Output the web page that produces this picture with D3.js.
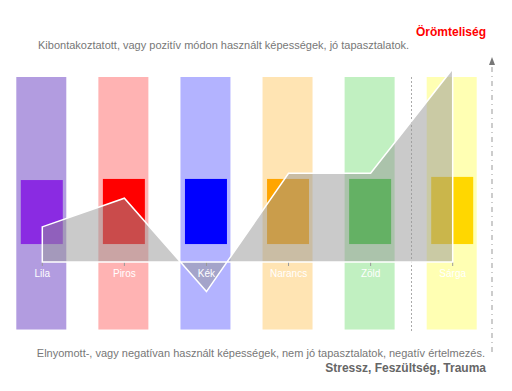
<!DOCTYPE html>
<html>
<head>
<meta charset="utf-8">
<script src="https://cdn.jsdelivr.net/npm/d3@7"></script>
<style>
  html, body { margin: 0; padding: 0; background: #fff; }
  text { font-family: "Liberation Sans", Arial, sans-serif; }
</style>
</head>
<body>
<div id="chart"></div>
<script>
// categories and values
const categories = ["Lila", "Piros", "Kék", "Narancs", "Zöld", "Sárga"];
const values = [1.9, 3.45, -1.6, 4.8, 4.8, 10.45];
const innerTop = [4.43, 4.49, 4.49, 4.49, 4.49, 4.6];
const innerBottom = [0.97, 0.97, 0.97, 0.97, 0.97, 0.97];
const columnTop = 10;
const columnBottom = -3.65;
const innerColors = ["blueviolet", "red", "blue", "orange", "limegreen", "gold"];
const columnColors = ["#b29ce0", "#ffb3b3", "#b3b3ff", "#ffe4b3", "#c1f0c1", "#ffffb3"];

const width = 512, height = 391;

const svg = d3.select("#chart")
  .append("svg")
    .attr("width", width)
    .attr("height", height);

// x positions of categories
const x = d3.scalePoint()
  .domain(categories)
  .range([42.3, 452.7]);

// value scale, 0 sits on the baseline
const y = d3.scaleLinear()
  .domain([-4, 11])
  .range([336, 58.5]);

const data = categories.map((c, i) => ({
  key: c, value: values[i], top: innerTop[i], bottom: innerBottom[i],
  color: innerColors[i], light: columnColors[i]
}));

// tall light columns
svg.selectAll(".column")
  .data(data)
  .join("rect")
    .attr("class", "column")
    .attr("x", d => x(d.key) - 26)
    .attr("width", 50)
    .attr("y", y(columnTop))
    .attr("height", y(columnBottom) - y(columnTop))
    .attr("fill", d => d.light);

// inner strong bars
svg.selectAll(".inner")
  .data(data)
  .join("rect")
    .attr("class", "inner")
    .attr("x", d => x(d.key) - 21.5)
    .attr("width", 42)
    .attr("y", d => y(d.top))
    .attr("height", d => y(d.bottom) - y(d.top))
    .attr("fill", d => d.color);

// dotted separator between Zöld and Sárga
svg.append("line")
  .attr("x1", 411.5).attr("x2", 411.5)
  .attr("y1", y(columnTop)).attr("y2", y(columnBottom) + 2)
  .attr("stroke", "#aaa")
  .attr("stroke-width", 1)
  .attr("stroke-dasharray", "2,2");

// ticks on the baseline
svg.selectAll(".tick")
  .data(categories)
  .join("line")
    .attr("class", "tick")
    .attr("x1", d => x(d)).attr("x2", d => x(d))
    .attr("y1", y(0)).attr("y2", y(0) + 4)
    .attr("stroke", "#999");

// gray area with white outline
const area = d3.area()
  .x(d => x(d.key))
  .y0(y(0))
  .y1(d => y(d.value));

svg.append("path")
  .datum(data)
  .attr("d", area(data))
  .attr("fill", "rgb(150,150,150)")
  .attr("fill-opacity", 0.5)
  .attr("stroke", "#fff")
  .attr("stroke-width", 1.5);

// category labels
svg.selectAll(".label")
  .data(categories)
  .join("text")
    .attr("class", "label")
    .attr("x", d => x(d))
    .attr("y", 277)
    .attr("text-anchor", "middle")
    .attr("font-size", 10)
    .attr("fill", "#fff")
    .text(d => d);

// right axis with arrow
svg.append("line")
  .attr("x1", 492).attr("x2", 492)
  .attr("y1", 67).attr("y2", 356)
  .attr("stroke", "#999")
  .attr("stroke-width", 1)
  .attr("stroke-dasharray", "5,4,1,4");
svg.append("path")
  .attr("d", "M492,57 L489,65 L495,65 Z")
  .attr("fill", "#777");

// texts
svg.append("text")
  .attr("x", 486).attr("y", 36)
  .attr("text-anchor", "end")
  .attr("font-size", 12).attr("font-weight", "bold")
  .attr("fill", "red")
  .text("Örömteliség");

svg.append("text")
  .attr("x", 38).attr("y", 49)
  .attr("font-size", 11)
  .attr("fill", "#777")
  .text("Kibontakoztatott, vagy pozitív módon használt képességek, jó tapasztalatok.");

svg.append("text")
  .attr("x", 485).attr("y", 357)
  .attr("text-anchor", "end")
  .attr("font-size", 11)
  .attr("fill", "#777")
  .text("Elnyomott-, vagy negatívan használt képességek, nem jó tapasztalatok, negatív értelmezés.");

svg.append("text")
  .attr("x", 486).attr("y", 372)
  .attr("text-anchor", "end")
  .attr("font-size", 12).attr("font-weight", "bold")
  .attr("fill", "#666")
  .text("Stressz, Feszültség, Trauma");
</script>
</body>
</html>
